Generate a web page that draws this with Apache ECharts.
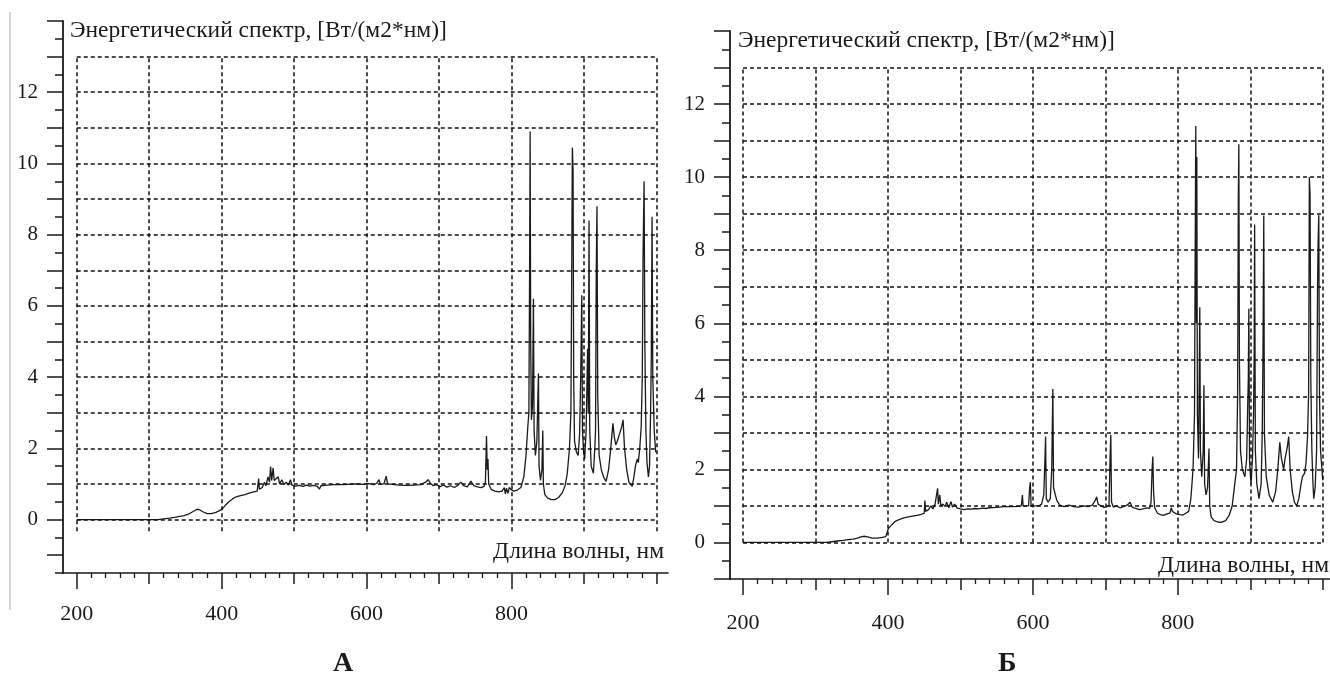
<!DOCTYPE html>
<html><head><meta charset="utf-8">
<script src="https://cdn.jsdelivr.net/npm/echarts@6/dist/echarts.min.js"></script>
<style>html,body{margin:0;padding:0;background:#fff}#c{width:1330px;height:684px}</style>
</head><body><div id="c"></div>
<script>
// ---- Chart A (left) ----
const leftWavelength = [200,300,312,320,328,335,342,348,354,360,366,370,374,380,386,392,397,401,405,410,415,420,426,432,438,444,449,451,452,456,459,461,464,466,467.5,469,471,472.5,475,478,480,483,486,489,492,495,497,502,507,512,517,522,527,532,535,537,545,555,565,575,585,595,603,610,614,617,619,624,627,629,636,645,655,665,675,682,685,688,692,697,701,706,711,716,721,726,730,734,739,744,748,753,758,762,764,765.5,766.5,767.5,768.5,772,777,782,787,790,791.5,793,795,797,799.5,803,808,813,817,820,822.5,824,825,825.7,826.5,827.5,829,830.3,831.2,833,835,836.5,837.2,838,840,842,843.2,844,846,850,855,860,865,870,874,877,880,882,883,884,885,885.8,887,889.5,892,894,895.5,897,898,899.5,901,903,905,906,907,908,910,913,915,916,917,918,919,921,924,927,930.6,934,937,940,942,944,946,949,952,954,956,959,962,966.6,969,971,973.5,975,977,979,980.5,981.5,983,984,985.5,987,989,990.5,992,993,994,995,997,999,1000];
const leftEnergy = [0,0,0,0.02,0.04,0.06,0.09,0.11,0.15,0.22,0.29,0.27,0.22,0.17,0.17,0.2,0.25,0.3,0.4,0.5,0.58,0.64,0.67,0.7,0.74,0.78,0.8,1.15,0.85,0.9,1.05,0.95,1.2,1.05,1.49,1.1,1.45,1.1,1.05,1.2,1.0,1.12,0.98,1.05,0.97,1.12,0.97,0.94,0.96,0.93,0.97,0.94,0.96,0.93,0.86,0.95,0.97,0.98,0.98,0.99,1.0,0.99,1.01,0.98,1.02,1.12,0.99,1.0,1.22,1.0,0.99,0.97,0.96,0.97,0.98,1.06,1.12,1.02,0.95,0.98,0.92,0.97,0.91,0.95,0.9,0.96,1.05,0.95,0.92,1.08,0.95,0.92,0.9,0.93,1.05,2.35,1.4,1.7,1.0,0.85,0.8,0.78,0.8,0.9,0.72,0.88,0.74,0.9,0.84,0.8,0.83,0.9,1.2,1.8,2.6,3.0,7.0,10.9,5.0,2.8,3.2,6.2,2.5,1.8,2.2,3.5,4.1,1.5,1.1,1.4,2.5,1.0,0.7,0.6,0.56,0.56,0.62,0.75,0.95,1.3,2.0,3.0,6.5,10.45,9.8,4.0,2.2,1.9,1.8,2.4,4.0,6.3,2.5,1.9,1.7,2.5,4.8,3.0,8.4,2.5,1.5,1.3,2.0,2.5,7.0,8.8,3.5,1.8,1.4,1.2,1.07,1.4,2.0,2.7,2.3,2.1,2.2,2.4,2.6,2.8,2.0,1.4,1.05,0.93,1.2,1.5,1.7,1.6,2.0,2.6,4.0,7.3,9.5,5.0,2.5,1.6,1.2,1.5,3.0,4.7,8.5,4.0,2.5,1.9,1.9];

// ---- Chart Б (right) ----
const rightWavelength = [200,300,316,322,330,338,345,352,358,364,368,372,378,385,392,397,399,400.5,405,410,416,422,428,434,440,446,450,451,452,456,459,462,465,467,468.5,469.5,471.5,473,476,479,481,484,487,489,492,495,500,505,510,515,520,525,530,535,540,550,560,570,580,584,585.5,586.5,590,594,595.5,596.5,597.5,602,608,612,615,616.5,617.5,618.5,621,624,626,627.5,628.5,631,633,637,643,650,656,663,670,676,682,686,688,690,694,698,702,705,706.5,707.5,708.5,711,715,720,725,730,734,737,742,747,752,757,761,763,764.5,765.5,766.5,768,772,776,780,785,789,791,792.5,795,798,800,803,807,811,815,818,821,823,824.2,824.8,825.5,826.2,827,828.5,829.5,830.3,831.2,833,835,836,837,839,841,843,844,846,850,855,860,866,871,875,878,881,882.5,883.5,884.2,885,886.5,889,892.5,895,896.5,897.3,898,899,901,903,904.5,905.3,906,907,909,912,915,916.5,917.5,918.6,919.5,922,926,931,935,938,940.7,943,946,948,951,953,955,958,961,964,967,970,972,975,977,979,980.5,981.5,982.5,983.5,985,986.5,987.6,989.5,991.5,992.8,993.5,994.5,995.5,997,1000];
const rightEnergy = [0,0,0,0.02,0.04,0.06,0.08,0.09,0.12,0.16,0.17,0.15,0.12,0.12,0.14,0.16,0.2,0.38,0.48,0.58,0.63,0.67,0.7,0.72,0.74,0.77,0.8,1.15,0.85,0.9,1.0,0.92,1.05,1.0,1.48,1.05,1.3,1.0,1.05,0.98,1.1,0.95,1.12,0.97,1.05,0.95,0.92,0.9,0.92,0.91,0.93,0.92,0.94,0.93,0.95,0.96,0.98,0.98,0.99,1.0,1.3,1.0,1.0,1.0,1.5,1.65,1.0,1.0,1.0,1.05,1.3,2.2,2.9,1.2,1.1,1.2,2.0,4.2,1.5,1.3,1.15,1.02,0.98,1.02,0.98,0.97,1.0,0.98,1.02,1.15,1.25,1.05,1.0,0.96,0.98,1.0,2.3,2.95,1.1,0.97,1.0,0.95,0.98,1.02,1.1,0.97,0.93,0.9,0.92,0.95,0.93,1.1,2.0,2.35,1.4,0.95,0.8,0.76,0.74,0.78,0.8,0.95,0.85,0.8,0.78,0.82,0.76,0.75,0.8,0.85,1.2,2.0,3.5,9.0,11.4,6.0,10.55,3.5,2.3,4.5,6.44,2.5,1.8,2.5,4.3,1.6,1.3,1.5,2.57,1.0,0.7,0.6,0.56,0.55,0.6,0.75,1.0,1.5,2.0,4.0,9.45,10.9,5.0,2.5,2.0,1.8,2.3,3.8,4.5,6.4,2.2,1.6,2.3,3.5,5.0,8.7,2.5,1.6,1.2,1.6,3.0,5.2,8.95,3.0,1.8,1.3,1.1,1.4,2.0,2.74,2.3,2.0,2.3,2.6,2.9,2.0,1.4,1.1,1.0,1.2,1.6,1.8,1.9,2.2,2.9,4.1,10.0,9.5,4.5,2.5,1.6,1.2,1.5,2.5,6.96,8.1,8.96,4.0,2.5,1.7];

// ---- Tick / label values ----
const xLabelValues = [200, 400, 600, 800];
const xHundredValues = [300, 500, 700, 900, 1000];
const xMinorValues = [];
for (let v = 220; v < 1000; v += 20) if (v % 100 !== 0) xMinorValues.push(v);
const yLabelValues = [0, 2, 4, 6, 8, 10, 12];
const gridXValues = [200, 300, 400, 500, 600, 700, 800, 900, 1000];
const gridYValues = [0, 1, 2, 3, 4, 5, 6, 7, 8, 9, 10, 11, 12, 13];
const titleText = 'Энергетический спектр, [Вт/(м2*нм)]';
const xNameText = 'Длина волны, нм';

const FONT = '"Liberation Serif", "DejaVu Serif", serif';
const INK = '#1a1a1a';

function intRange(a, b) { const r = []; for (let v = a; v <= b; v++) r.push(v); return r; }
function halfRange(a, b) { const r = []; for (let v = a; v <= b; v++) r.push(v + 0.5); return r; }

function xAxes(gi, min, max, margin) {
  const base = { type: 'value', gridIndex: gi, min: min, max: max, position: 'bottom',
    splitLine: { show: false }, axisPointer: { show: false } };
  return [
    Object.assign({}, base, {
      axisLine: { show: true, onZero: false, lineStyle: { color: INK, width: 1.6 } },
      axisTick: { show: true, customValues: xLabelValues, length: 16, lineStyle: { color: INK, width: 1.5 } },
      axisLabel: { show: true, customValues: xLabelValues, margin: margin, fontFamily: FONT, fontSize: 22, color: INK }
    }),
    Object.assign({}, base, {
      axisLine: { show: false, onZero: false },
      axisTick: { show: true, customValues: xHundredValues, length: 11, lineStyle: { color: INK, width: 1.5 } },
      axisLabel: { show: false }
    }),
    Object.assign({}, base, {
      axisLine: { show: false, onZero: false },
      axisTick: { show: true, customValues: xMinorValues, length: 5, lineStyle: { color: INK, width: 1.3 } },
      axisLabel: { show: false }
    })
  ];
}
function yAxes(gi, min, max) {
  const base = { type: 'value', gridIndex: gi, min: min, max: max, position: 'left',
    splitLine: { show: false }, axisPointer: { show: false } };
  return [
    Object.assign({}, base, {
      axisLine: { show: true, onZero: false, lineStyle: { color: INK, width: 1.8 } },
      axisTick: { show: true, customValues: intRange(Math.ceil(min), max), length: 16, lineStyle: { color: INK, width: 1.5 } },
      axisLabel: { show: true, customValues: yLabelValues, margin: 25, fontFamily: FONT, fontSize: 21, color: INK }
    }),
    Object.assign({}, base, {
      axisLine: { show: false, onZero: false },
      axisTick: { show: true, customValues: halfRange(Math.floor(min), max - 1).filter(v => v >= min), length: 8, lineStyle: { color: INK, width: 1.5 } },
      axisLabel: { show: false }
    })
  ];
}
function gridLines(vBottom) {
  const d = [];
  gridXValues.forEach(x => d.push([{ coord: [x, vBottom] }, { coord: [x, 13] }]));
  gridYValues.forEach(y => d.push([{ coord: [200, y] }, { coord: [1000, y] }]));
  return d;
}
function spectrum(gi, axBase, wl, val, vBottom) {
  return {
    type: 'line', xAxisIndex: axBase.x, yAxisIndex: axBase.y,
    data: wl.map((w, i) => [w, val[i]]),
    showSymbol: false, symbol: 'none', silent: true, clip: false,
    lineStyle: { color: INK, width: 1.3 },
    markLine: {
      silent: true, symbol: ['none', 'none'], animation: false,
      label: { show: false },
      lineStyle: { color: '#111', width: 1.5, type: [4, 3] },
      data: gridLines(vBottom)
    },
    z: 3
  };
}

const chart = echarts.init(document.getElementById('c'), null, { renderer: 'canvas' });
chart.setOption({
  animation: false,
  backgroundColor: '#ffffff',
  grid: [
    { left: 63, top: 21, width: 605, height: 552 },
    { left: 730, top: 31, width: 600, height: 548 }
  ],
  xAxis: [].concat(xAxes(0, 181, 1016, 30), xAxes(1, 182, 1010, 33)),
  yAxis: [].concat(yAxes(0, -1.5, 14), yAxes(1, -1, 14)),
  series: [
    spectrum(0, { x: 0, y: 0 }, leftWavelength, leftEnergy, -0.33),
    spectrum(1, { x: 3, y: 2 }, rightWavelength, rightEnergy, 0)
  ],
  graphic: [
    { type: 'line', shape: { x1: 10, y1: 12, x2: 10, y2: 610 }, style: { stroke: '#aaaaaa', lineWidth: 1 } },
    { type: 'text', left: 70, top: 19, style: { text: titleText, font: '23.5px ' + FONT, fill: INK } },
    { type: 'text', left: 738, top: 29, style: { text: titleText, font: '23.5px ' + FONT, fill: INK } },
    { type: 'text', right: 1330 - 664, top: 540, style: { text: xNameText, font: '23.5px ' + FONT, fill: INK } },
    { type: 'text', right: 1, top: 554, style: { text: xNameText, font: '23.5px ' + FONT, fill: INK } },
    { type: 'text', left: 333, top: 650, style: { text: 'А', font: 'bold 28px ' + FONT, fill: INK } },
    { type: 'text', left: 998, top: 650, style: { text: 'Б', font: 'bold 28px ' + FONT, fill: INK } }
  ]
});
</script>
</body></html>
